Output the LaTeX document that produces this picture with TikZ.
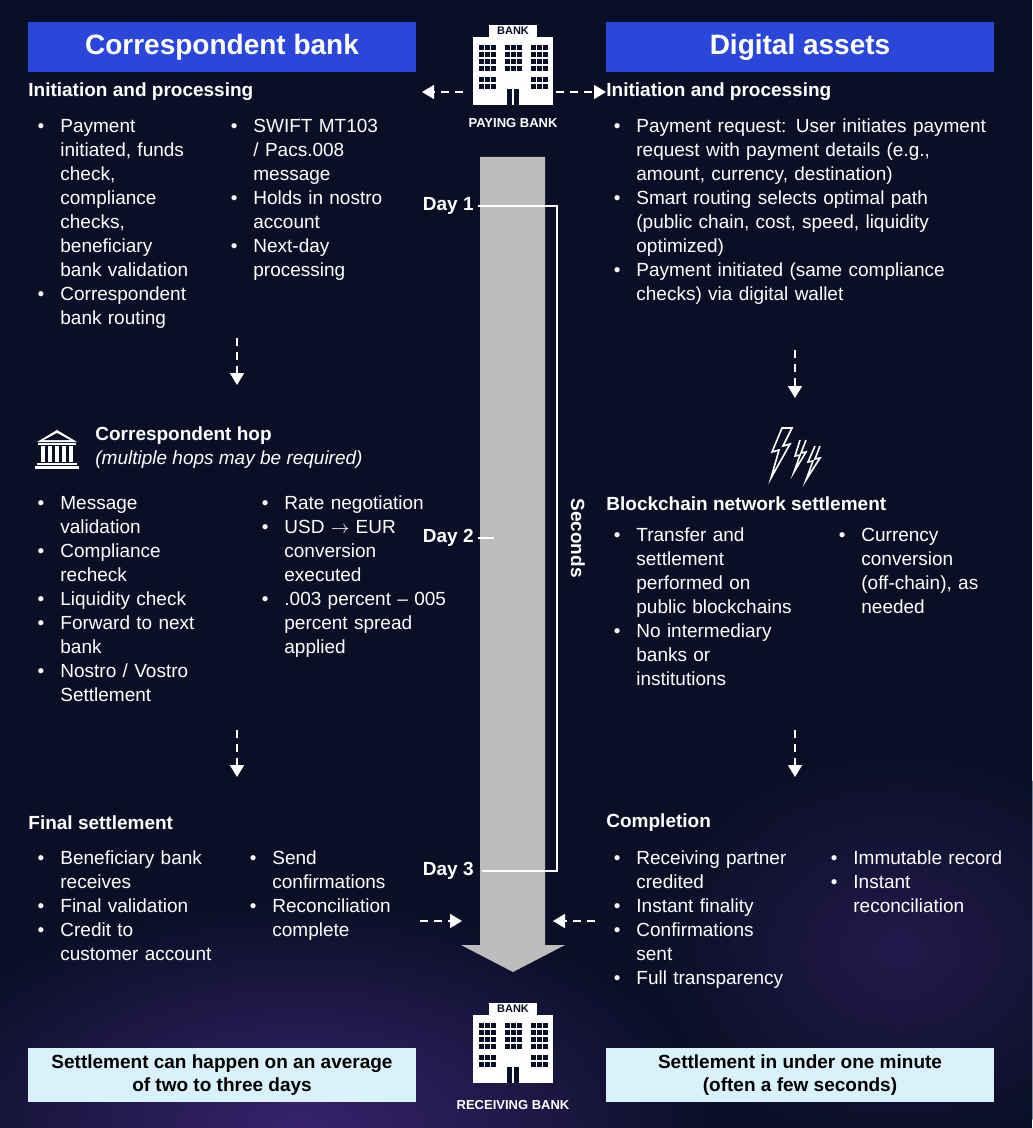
\documentclass[tikz,border=0pt]{standalone}
\usepackage{fontspec}
\setmainfont{Liberation Sans}
\usepackage{enumitem}
\usetikzlibrary{arrows.meta,positioning}
\definecolor{bgnavy}{HTML}{0A0F26}
\definecolor{hdrblue}{HTML}{2B47D9}
\definecolor{notebox}{HTML}{D8F1FB}
\definecolor{barGray}{HTML}{BDBDBD}
\definecolor{glow}{HTML}{4A2C8C}
\newlist{blist}{itemize}{1}
\setlist[blist]{label=\textbullet, leftmargin=15pt, labelsep=8pt, itemsep=0pt, topsep=0pt, parsep=0pt, partopsep=0pt}
\newcommand{\bodyfont}{\fontsize{9.5}{12}\selectfont}
\tikzset{
  bank/.pic={
    \fill[white] (-24,-68) rectangle (24,-56);
    \node[text=bgnavy, font=\fontsize{5.5}{6}\selectfont\bfseries] at (0,-62) {BANK};
    \fill[white] (-40,-56) rectangle (40,12);
    \foreach \cx in {-26,0,26}{
      \foreach \r in {0,1,2,3}{
        \foreach \k in {-1,0,1}{
          \fill[bgnavy] (\cx+\k*6-2.5,-48+\r*7) rectangle (\cx+\k*6+2.5,-43+\r*7);
        }
      }
    }
    \foreach \cx in {-26,26}{
      \foreach \r in {0,1}{
        \foreach \k in {-1,0,1}{
          \fill[bgnavy] (\cx+\k*6-2.5,-16+\r*7) rectangle (\cx+\k*6+2.5,-11+\r*7);
        }
      }
    }
    \fill[bgnavy] (-6,-4) rectangle (6,12);
    \draw[white,line width=.6pt] (0,-4) -- (0,12);
  }
}
\begin{document}
\begin{tikzpicture}[x=0.5pt, y=-0.5pt,
  title/.style={fill=hdrblue, text=white, minimum width=194pt, minimum height=25pt, font=\fontsize{14}{16}\bfseries},
  head/.style={anchor=west, text=white, font=\fontsize{9.5}{12}\selectfont\bfseries, inner sep=0pt},
  list/.style={anchor=north west, text=white, inner sep=0pt, font=\bodyfont, text width=#1},
  note/.style={fill=notebox, text=black, minimum width=194pt, minimum height=25pt, align=center, font=\fontsize{9.5}{11.5}\selectfont\bfseries},
  dayl/.style={text=white, font=\fontsize{9.5}{12}\selectfont\bfseries, anchor=east, inner sep=0pt},
  flow/.style={white, thick, dash pattern=on 4pt off 3pt, -{Triangle[length=6pt,width=7pt]}},
  timeline/.style={white, line width=1.2pt}
]
\useasboundingbox (0,0) rectangle (1032,1128);
\fill[bgnavy] (0,0) rectangle (1032,1128);
\shade[inner color=glow, outer color=bgnavy, opacity=.7] (300,1128) ellipse (420 and 230);
\shade[inner color=glow!80!black, outer color=bgnavy, opacity=.5] (900,950) ellipse (250 and 200);

% headers
\node[title] (cbTitle) at (222,47) {Correspondent bank};
\node[title] (daTitle) at (800,47) {Digital assets};

% banks
\pic at (513,93) {bank};
\node[text=white, font=\fontsize{6.5}{8}\selectfont\bfseries] (payBank) at (513,123) {PAYING BANK};
\pic at (513,1071) {bank};
\node[text=white, font=\fontsize{6.5}{8}\selectfont\bfseries] (recvBank) at (513,1105) {RECEIVING BANK};
\coordinate (payL) at (463,92);
\coordinate (payR) at (556,92);

% time bar
\fill[barGray] (480,157) -- (545,157) -- (545,945) -- (565,945) -- (513,972) -- (461,945) -- (480,945) -- cycle;
\coordinate (barL) at (462,921);
\coordinate (barR) at (553,921);

% left: initiation
\node[head] (cbInit) at (28,92) {Initiation and processing};
\node[list=80pt] (cbInitA) at (30,108) {\begin{blist}
  \item Payment initiated, funds check, compliance checks, beneficiary bank validation
  \item Correspondent bank routing
\end{blist}};
\node[list=80pt] (cbInitB) at (223,108) {\begin{blist}
  \item SWIFT MT103 / Pacs.008 message
  \item Holds in nostro account
  \item Next-day processing
\end{blist}};

% left: hop
\node[head] (hop) at (95,436) {Correspondent hop};
\node[anchor=west, text=white, inner sep=0pt, font=\fontsize{9.5}{12}\selectfont\itshape] (hopNote) at (95,460) {(multiple hops may be required)};
\begin{scope}[shift={(57,450)}, white]
  \fill (-20,-8) -- (0,-20) -- (20,-8) -- cycle;
  \fill[bgnavy] (-13,-10) -- (0,-17) -- (13,-10) -- cycle;
  \fill (-19,-7) rectangle (19,-5);
  \foreach \cx in {-14,-7,0,7,14} \fill (\cx-2,-4) rectangle (\cx+2,12);
  \fill (-20,13) rectangle (20,15);
  \fill (-22,16) rectangle (22,19);
\end{scope}
\node[list=85pt] (hopA) at (30,485) {\begin{blist}
  \item Message validation
  \item Compliance recheck
  \item Liquidity check
  \item Forward to next bank
  \item Nostro / Vostro Settlement
\end{blist}};
\node[list=100pt] (hopB) at (254,485) {\begin{blist}
  \item Rate negotiation
  \item USD $\rightarrow$ EUR conversion executed
  \item .003 percent -- 005 percent spread applied
\end{blist}};

% left: final
\node[head] (cbFinal) at (28,823) {Final settlement};
\node[list=93pt] (finA) at (30,840) {\begin{blist}
  \item Beneficiary bank receives
  \item Final validation
  \item Credit to customer account
\end{blist}};
\node[list=79pt] (finB) at (242,840) {\begin{blist}
  \item Send confirmations
  \item Reconciliation complete
\end{blist}};

% right: initiation
\node[head] (daInit) at (606,92) {Initiation and processing};
\node[list=190pt] (daInitA) at (606,108) {\begin{blist}
  \item Payment request: User initiates payment request with payment details (e.g., amount, currency, destination)
  \item Smart routing selects optimal path (public chain, cost, speed, liquidity optimized)
  \item Payment initiated (same compliance checks) via digital wallet
\end{blist}};

% right: blockchain
\begin{scope}[white, line width=.8pt, line join=miter]
  \draw (782,428) -- (772,452) -- (779,450) -- (771,478) -- (790,444) -- (783,446) -- (792,428) -- cycle;
  \draw (800,440) -- (795,456) -- (800,455) -- (794,472) -- (806,452) -- (801,453) -- (806,440);
  \draw (815,446) -- (808,462) -- (813,461) -- (806,480) -- (820,458) -- (815,459) -- (820,446);
\end{scope}
\node[head] (chain) at (606,504) {Blockchain network settlement};
\node[list=98pt] (chainA) at (606,517) {\begin{blist}
  \item Transfer and settlement performed on public blockchains
  \item No intermediary banks or institutions
\end{blist}};
\node[list=79pt] (chainB) at (831,517) {\begin{blist}
  \item Currency conversion (off-chain), as needed
\end{blist}};

% right: completion
\node[head] (done) at (606,823) {Completion};
\node[list=92pt] (doneA) at (606,840) {\begin{blist}
  \item Receiving partner credited
  \item Instant finality
  \item Confirmations sent
  \item Full transparency
\end{blist}};
\node[list=95pt] (doneB) at (823,840) {\begin{blist}
  \item Immutable record
  \item Instant reconciliation
\end{blist}};

% timeline
\node[dayl] (day1) at (474,206) {Day 1};
\node[dayl] (day2) at (474,538) {Day 2};
\node[dayl] (day3) at (474,871) {Day 3};
\coordinate (t1) at (557,206);
\coordinate (t3) at (557,871);
\draw[timeline] (day1.east) ++(4,0) -- (t1) -- (t3) -- ([xshift=4pt]day3.east);
\draw[timeline] ([xshift=2pt]day2.east) -- ++(16,0);
\node[rotate=-90, text=white, font=\fontsize{9.5}{12}\selectfont\bfseries] (sec) at (578,538) {Seconds};

% notes
\node[note] (cbNote) at (222,1075) {Settlement can happen on an average\\of two to three days};
\node[note] (daNote) at (800,1075) {Settlement in under one minute\\(often a few seconds)};

% connectors
\draw[flow] (payL) -- (422,92);
\draw[flow] (payR) -- (daInit.west);
\draw[flow] (237,338) -- (237,385);
\draw[flow] (237,730) -- (237,777);
\draw[flow] (795,350) -- (795,398);
\draw[flow] (795,730) -- (795,777);
\draw[flow] (420,921) -- (barL);
\draw[flow] (595,921) -- (barR);
\end{tikzpicture}
\end{document}
